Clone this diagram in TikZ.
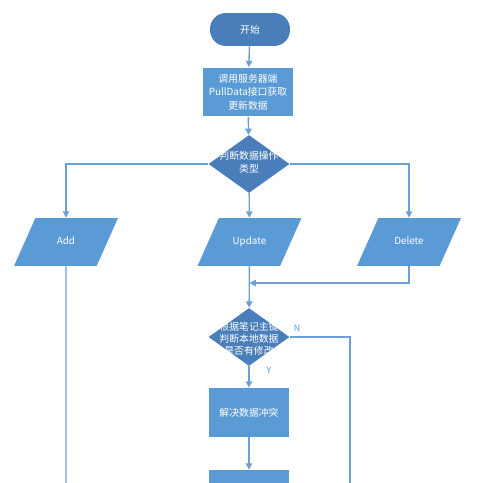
\documentclass[tikz,border=0pt]{standalone}
\usepackage{fontspec}
\setmainfont{Noto Sans CJK SC}
\usepackage{tikz}
\usetikzlibrary{shapes.geometric, arrows}
\usetikzlibrary{arrows.meta, positioning}
\usepackage{xcolor}
\definecolor{boxblue}{HTML}{5B9BD5}
\definecolor{darkblue}{HTML}{4A7EBB}
\definecolor{lineblue}{HTML}{6C9FD6}

\begin{document}
\begin{tikzpicture}[
        x=0.02cm, y=-0.02cm,
        every node/.style={font=\fontsize{5.6}{7.6}\selectfont},
        terminal/.style={
          rectangle,
          rounded corners=0.32cm,
          minimum width=1.6cm,
          minimum height=0.66cm,
          fill=darkblue,
          text=white
        },
        process/.style={
          rectangle,
          minimum width=1.62cm,
          minimum height=0.98cm,
          fill=boxblue,
          align=center,
          text=white
        },
        decision/.style={
          diamond,
          inner sep=0pt,
          minimum width=1.62cm,
          minimum height=1.16cm,
          fill=darkblue
        },
        io/.style={
          trapezium,
          trapezium left angle=66,
          trapezium right angle=114,
          trapezium stretches body,
          text height=1.5mm,
          text depth=0.5mm,
          inner ysep=3.8mm,
          minimum width=2.08cm,
          fill=boxblue,
          text=white
        },
        inside/.style={
          align=center,
          text=white
        },
        arrow/.style={
          -{Triangle[width=3.6pt, length=3.6pt]},
          draw=lineblue,
          line width=0.8pt
        },
        line/.style={
          draw=lineblue,
          line width=0.8pt
        },
        answer/.style={
          text=boxblue,
          font=\fontsize{5}{6}\selectfont
        }
      ]

      \useasboundingbox (0,0) rectangle (500,483);
      \clip (0,0) rectangle (500,483);

      % Entities
      \node[terminal] (start) at (250,29.5) {开始};
      \node[process] (pull) at (248,92) {调用服务器端\\PullData接口获取\\更新数据};
      \node[decision] (type) at (249,164) {};
      \node[inside] (typetext) at (249,162) {判断数据操作\\类型};

      \node[io] (add) at (66,242) {Add};
      \node[io] (update) at (249.5,242) {Update};
      \node[io] (delete) at (409,242) {Delete};

      \coordinate (merge) at (249.5,283);
      \node[decision] (check) at (249,337) {};
      \node[inside, font=\fontsize{5.6}{6.8}\selectfont] (checktext) at (249,339) {根据笔记主键\\判断本地数据\\是否有修改};

      \node[process] (solve) at (249,412.5) {解决数据冲突};
      \node[process] (next) at (249,494.5) {};

      \coordinate (addend) at (66,495);
      \coordinate (nend) at (350,495);

      % Connectors
      \draw[arrow] (start) -- (pull);
      \draw[arrow] (pull) -- (type);
      \draw[arrow] (type.west) -| (add);
      \draw[arrow] (type) -- (update);
      \draw[arrow] (type.east) -| (delete);
      \draw[line] (add) -- (addend);
      \draw[arrow] (delete) |- (merge);
      \draw[arrow] (update) -- (check);
      \draw[line] (check.east) -| (nend);
      \draw[arrow] (check) -- (solve);
      \draw[arrow] (solve) -- (next);

      % Answers
      \node[answer] (no) at (297,328) {N};
      \node[answer] (yes) at (269,370) {Y};

    \end{tikzpicture}
\end{document}
